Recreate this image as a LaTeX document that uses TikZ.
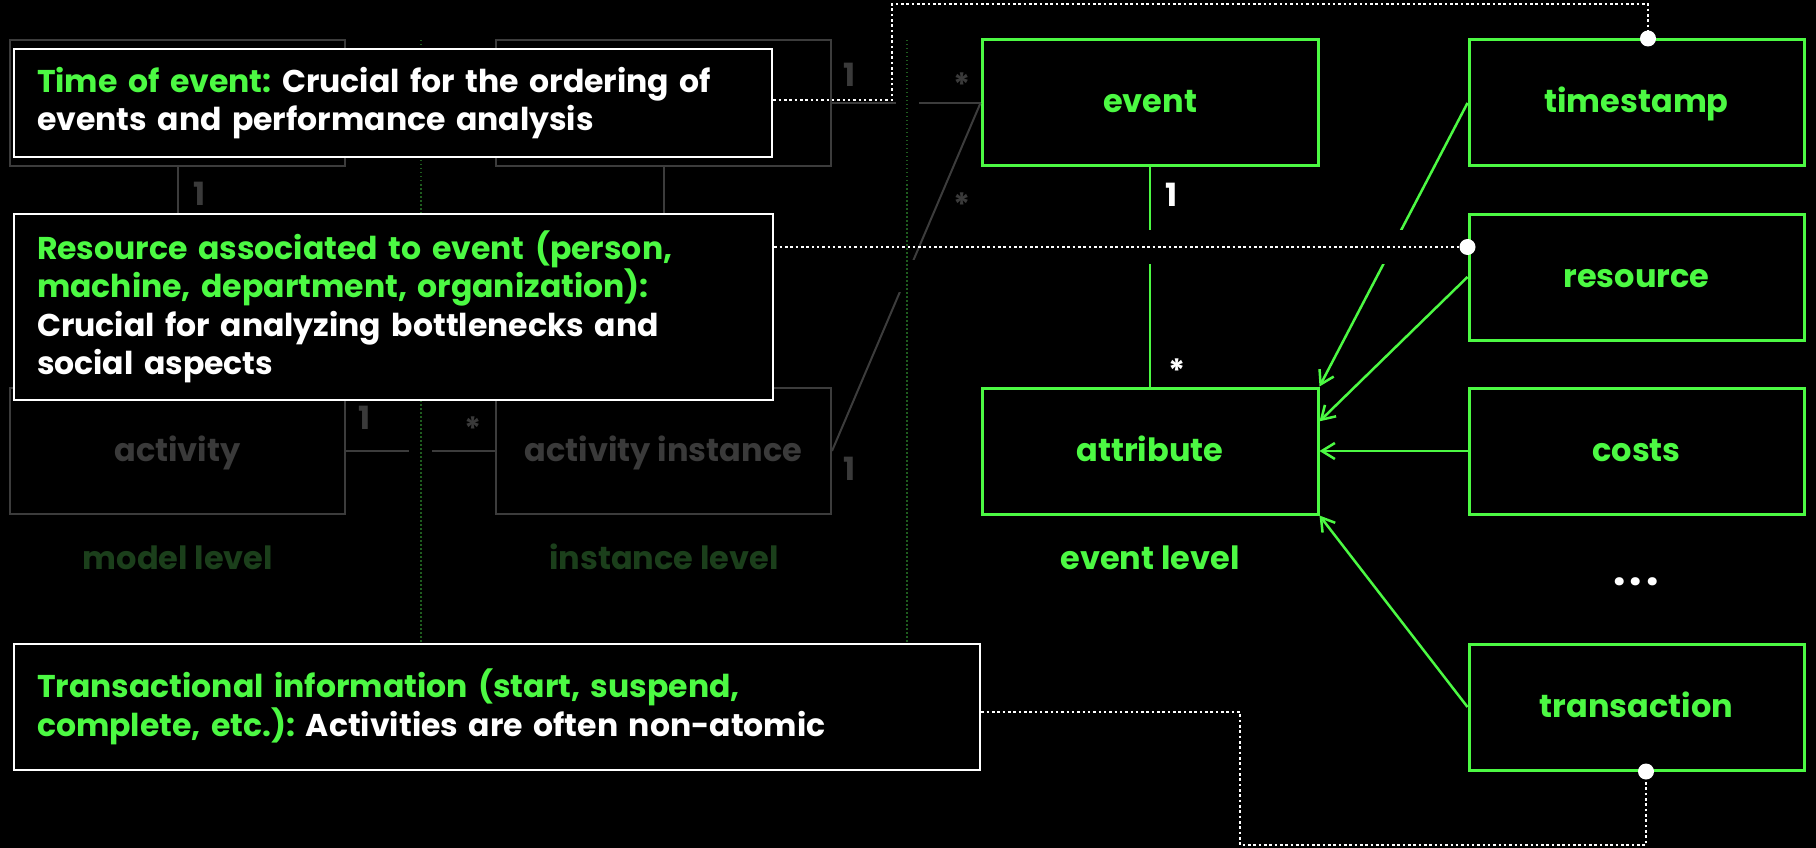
\documentclass[tikz,border=0pt]{standalone}
\usepackage{fontspec}
\setmainfont{Poppins}
\usetikzlibrary{arrows.meta,calc}
\definecolor{lime}{HTML}{4CF943}
\definecolor{ghost}{HTML}{3C3C3C}
\definecolor{ghosttext}{HTML}{3A3A3A}
\definecolor{dkgreen}{HTML}{1B3F1B}
\definecolor{gridgreen}{HTML}{1E5C1E}
\frenchspacing
\begin{document}
\begin{tikzpicture}[x=1pt,y=-1pt,
  gbox/.style={draw=lime, line width=3pt, fill=black, minimum width=336pt, minimum height=126pt, inner sep=0pt, text=lime, font=\fontsize{32}{38}\selectfont\bfseries, text height=20pt, text depth=0pt},
  hbox/.style={draw=ghost, line width=2pt, fill=black, minimum width=335pt, minimum height=126pt, inner sep=0pt, text=ghosttext, font=\fontsize{32}{38}\selectfont\bfseries, text height=20pt, text depth=0pt},
  note/.style={draw=white, line width=2.5pt, fill=black, inner xsep=23pt, inner ysep=0pt, align=left, text=white, font=\fontsize{31.5}{38.5}\selectfont\bfseries},
  gline/.style={draw=ghost, line width=2pt},
  gconn/.style={draw=lime, line width=2.5pt},
  garrow/.style={draw=lime, line width=2.5pt, -{Straight Barb[length=13pt,width=16pt]}},
  mult/.style={inner sep=0pt, anchor=north, font=\fontsize{32}{38}\selectfont\bfseries},
  level/.style={inner sep=0pt, anchor=base, font=\fontsize{32}{38}\selectfont\bfseries},
  gridline/.style={draw=gridgreen, line width=1.2pt, dash pattern=on 1.5pt off 2.5pt},
  wdots/.style={draw=white, line width=2.6pt, dash pattern=on 2.6pt off 2.73pt},
  bigdot/.style={fill=white}
]
\useasboundingbox (0,0) rectangle (1816,848);
\fill[black] (0,0) rectangle (1816,848);

% ghost (model / instance level)
\node[hbox] (proc) at (177.5,103) {};
\node[hbox] (pinst) at (663.5,103) {};
\node[hbox] (act) at (177.5,451) {activity};
\node[hbox] (ainst) at (663.5,451) {activity instance};

\draw[gline] (proc.south) -- (act.north);
\draw[gline] (pinst.south) -- (ainst.north);
\draw[gline] (act.east) -- (ainst.west);

% green event level
\node[gbox] (event) at (1150,103) {event};
\node[gbox, minimum width=335pt] (timestamp) at (1636.5,103) {timestamp};
\node[gbox, minimum width=335pt] (resource) at (1636.5,277) {resource};
\node[gbox] (attr) at (1150,451) {attribute};
\node[gbox, minimum width=335pt] (costs) at (1636.5,451) {costs};
\node[gbox, minimum width=335pt] (transaction) at (1636.5,707) {transaction};

\draw[gline] (pinst.east) -- (event.west);
\draw[gline] (ainst.east) -- (event.west);

\draw[gconn] (event.south) -- (attr.north);
\draw[garrow] (timestamp.west) -- (attr.north east);
\draw[garrow] (resource.west) -- ($(attr.north east)!0.27!(attr.south east)$);
\draw[garrow] (costs.west) -- (attr.east);
\draw[garrow] (transaction.west) -- (attr.south east);

% multiplicities
\node[mult, text=ghosttext] (m1) at (200,181.5) {1};
\node[mult, text=ghosttext] (m2) at (850,62.5) {1};
\node[mult, text=ghosttext] (m3) at (962,73) {*};
\node[mult, text=ghosttext] (m4) at (962,193) {*};
\node[mult, text=ghosttext] (m5) at (365,405.5) {1};
\node[mult, text=ghosttext] (m6) at (473,417) {*};
\node[mult, text=ghosttext] (m7) at (850,456.5) {1};
\node[mult, text=white] (m8) at (1172,182.5) {1};
\node[mult, text=white] (m9) at (1177,359) {*};

% level labels
\node[level, text=dkgreen] (ml) at (178,569) {model level};
\node[level, text=dkgreen] (il) at (664,569) {instance level};
\node[level, text=lime] (el) at (1150,569) {event level};
\node[inner sep=0pt, anchor=base, text=white, font=\fontsize{44}{44}\selectfont\bfseries] (dots) at (1636,585) {.\hspace{4pt}.\hspace{4pt}.};

% gaps at crossings
\fill[black] (1141,230) rectangle (1159,264);
\fill[black] (1378,230) rectangle (1410,264);
\fill[black] (896,97) rectangle (919,109);
\fill[black] (409,445) rectangle (432,457);
\fill[black] (897,260) rectangle (918,292);

% level separators
\draw[gridline] (421,40) -- (421,644);
\draw[gridline] (907,40) -- (907,644);

% notes
\node[note, text width=712pt, minimum height=108pt] (tnote) at (393,103)
  {\textcolor{lime}{Time of event:} Crucial for the ordering of\\events and performance analysis};
\node[note, text width=713pt, minimum height=186pt] (rnote) at (393.5,307)
  {\textcolor{lime}{Resource associated to event (person,}\\\textcolor{lime}{machine, department, organization):}\\Crucial for analyzing bottlenecks and\\social aspects};
\node[note, text width=920pt, minimum height=126pt] (xnote) at (497,707)
  {\textcolor{lime}{Transactional information (start, suspend,}\\\textcolor{lime}{complete, etc.):} Activities are often non-atomic};

% dotted connectors
\coordinate (tsdot) at ($(timestamp.north)+(11.5,0)$);
\coordinate (rdot) at ($(resource.west)+(0,-30)$);
\coordinate (xdot) at ($(transaction.south)+(9.5,0)$);
\coordinate (tc1) at (892,4);
\coordinate (xc1) at (1240,845);
\draw[wdots] ($(tnote.east)+(0,-3)$) -| (tc1) -| (tsdot);
\draw[wdots] (rnote.east |- rdot) -- (rdot);
\draw[wdots] ($(xnote.east)+(0,5)$) -| (xc1) -| (xdot);
\fill[bigdot] (tsdot) circle[radius=8pt];
\fill[bigdot] (rdot) circle[radius=8pt];
\fill[bigdot] (xdot) circle[radius=8pt];
\end{tikzpicture}
\end{document}
